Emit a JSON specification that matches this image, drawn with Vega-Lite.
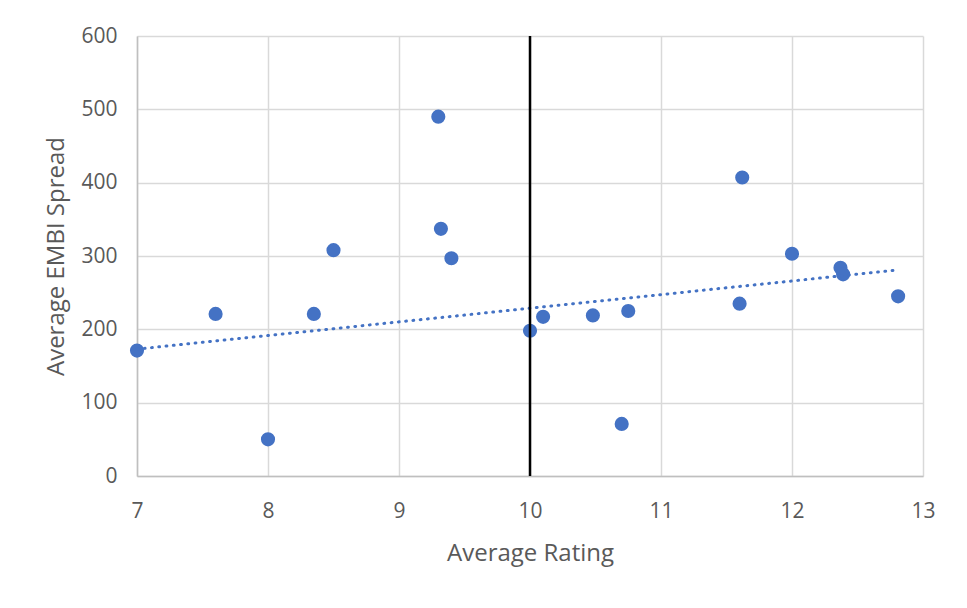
{
  "$schema": "https://vega.github.io/schema/vega-lite/v6.json",
  "width": 786,
  "height": 440,
  "autosize": "none",
  "padding": {"left": 137, "top": 36, "right": 44, "bottom": 132},
  "background": "white",
  "config": {
    "view": {"stroke": null},
    "font": "Open Sans",
    "axis": {
      "labelFont": "Open Sans",
      "titleFont": "Open Sans",
      "labelColor": "#595959",
      "titleColor": "#595959",
      "labelFontSize": 21,
      "titleFontSize": 24,
      "titleFontWeight": "normal",
      "gridColor": "#d9d9d9",
      "gridWidth": 1.5,
      "domainColor": "#bfbfbf",
      "domainWidth": 1.5,
      "ticks": false,
      "labelOverlap": false,
      "labelFlush": false,
      "labelBound": false
    }
  },
  "datasets": {
    "points": [
      {"rating": 7.0, "spread": 171},
      {"rating": 7.6, "spread": 221},
      {"rating": 8.0, "spread": 50},
      {"rating": 8.35, "spread": 221},
      {"rating": 8.5, "spread": 308},
      {"rating": 9.3, "spread": 490},
      {"rating": 9.32, "spread": 337},
      {"rating": 9.4, "spread": 297},
      {"rating": 10.0, "spread": 198},
      {"rating": 10.1, "spread": 217},
      {"rating": 10.48, "spread": 219},
      {"rating": 10.7, "spread": 71},
      {"rating": 10.75, "spread": 225},
      {"rating": 11.6, "spread": 235},
      {"rating": 11.62, "spread": 407},
      {"rating": 12.0, "spread": 303},
      {"rating": 12.37, "spread": 284},
      {"rating": 12.39, "spread": 275},
      {"rating": 12.81, "spread": 245}
    ],
    "trend": [
      {"rating": 7.0, "spread": 173},
      {"rating": 12.81, "spread": 281}
    ],
    "vline": [{"rating": 10, "lo": 0, "hi": 600}]
  },
  "layer": [
    {
      "data": {"name": "points"},
      "mark": {"type": "circle", "size": 200, "color": "#4472C4", "opacity": 1},
      "encoding": {
        "x": {
          "field": "rating", "type": "quantitative",
          "scale": {"domain": [7, 13], "nice": false, "zero": false},
          "axis": {"title": "Average Rating", "values": [7, 8, 9, 10, 11, 12, 13], "format": "d", "labelPadding": 24, "titlePadding": 20, "grid": true}
        },
        "y": {
          "field": "spread", "type": "quantitative",
          "scale": {"domain": [0, 600], "nice": false},
          "axis": {"title": "Average EMBI Spread", "values": [0, 100, 200, 300, 400, 500, 600], "format": "d", "labelPadding": 20, "titlePadding": 12, "grid": true}
        }
      }
    },
    {
      "data": {"name": "trend"},
      "mark": {"type": "line", "color": "#4472C4", "strokeWidth": 3, "strokeDash": [0.8, 6.5], "strokeCap": "round"},
      "encoding": {
        "x": {"field": "rating", "type": "quantitative"},
        "y": {"field": "spread", "type": "quantitative"}
      }
    },
    {
      "data": {"name": "vline"},
      "mark": {"type": "rule", "color": "black", "strokeWidth": 2.5},
      "encoding": {
        "x": {"field": "rating", "type": "quantitative"},
        "y": {"field": "lo", "type": "quantitative"},
        "y2": {"field": "hi"}
      }
    }
  ]
}
